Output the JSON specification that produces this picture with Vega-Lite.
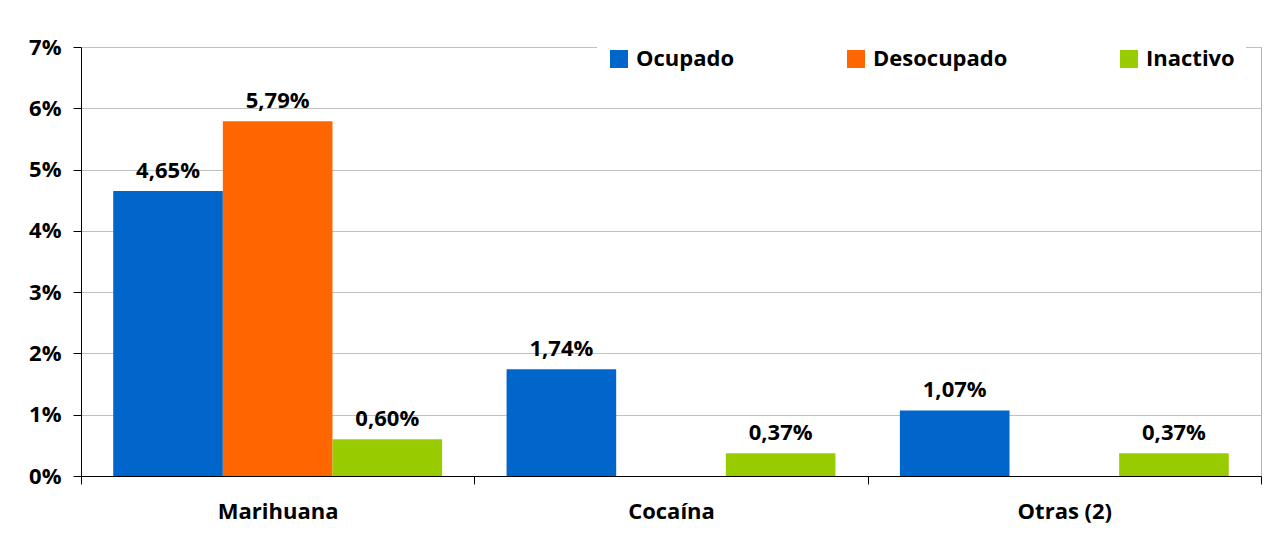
{
  "$schema": "https://vega.github.io/schema/vega-lite/v6.json",
  "width": 1180,
  "height": 429,
  "autosize": {"type": "none"},
  "padding": {"left": 81, "top": 47, "right": 5, "bottom": 62},
  "background": "white",
  "config": {
    "locale": {"number": {"decimal": ",", "thousands": ".", "grouping": [3], "currency": ["", " €"]}},
    "view": {"stroke": "#b3b3b3", "strokeWidth": 1},
    "font": "Open Sans"
  },
  "data": {
    "values": [
      {"droga": "Marihuana", "condicion": "Ocupado", "valor": 0.0465},
      {"droga": "Marihuana", "condicion": "Desocupado", "valor": 0.0579},
      {"droga": "Marihuana", "condicion": "Inactivo", "valor": 0.0060},
      {"droga": "Cocaína", "condicion": "Ocupado", "valor": 0.0174},
      {"droga": "Cocaína", "condicion": "Inactivo", "valor": 0.0037},
      {"droga": "Otras (2)", "condicion": "Ocupado", "valor": 0.0107},
      {"droga": "Otras (2)", "condicion": "Inactivo", "valor": 0.0037}
    ]
  },
  "encoding": {
    "x": {
      "field": "droga", "type": "nominal",
      "sort": ["Marihuana", "Cocaína", "Otras (2)"],
      "scale": {"domain": ["Marihuana", "Cocaína", "Otras (2)"], "paddingInner": 0, "paddingOuter": 0},
      "axis": {
        "title": null, "labelAngle": 0, "tickBand": "extent", "ticks": true,
        "tickColor": "#000000", "tickSize": 8, "domainColor": "#000000", "domainWidth": 1,
        "labelPadding": 17, "labelFontSize": 22, "labelFontWeight": "bold", "labelColor": "#000000",
        "grid": false
      }
    },
    "xOffset": {
      "field": "condicion", "type": "nominal",
      "scale": {"domain": ["Ocupado", "Desocupado", "Inactivo"], "paddingInner": 0, "paddingOuter": 0.294}
    },
    "y": {
      "field": "valor", "type": "quantitative",
      "scale": {"domain": [0, 0.07], "nice": false},
      "axis": {
        "title": null, "values": [0, 0.01, 0.02, 0.03, 0.04, 0.05, 0.06, 0.07], "format": ".0%",
        "tickColor": "#000000", "tickSize": 8, "domainColor": "#000000",
        "labelPadding": 12, "labelFontSize": 22, "labelFontWeight": "bold", "labelColor": "#000000",
        "grid": true, "gridColor": "#c0c0c0"
      }
    }
  },
  "layer": [
    {
      "mark": {"type": "bar"},
      "encoding": {
        "color": {
          "field": "condicion", "type": "nominal",
          "scale": {"domain": ["Ocupado", "Desocupado", "Inactivo"], "range": ["#0066CC", "#FF6600", "#99CC00"]},
          "legend": {
            "title": null, "orient": "none", "direction": "horizontal",
            "legendX": 516, "legendY": -10, "padding": 11,
            "fillColor": "white", "symbolType": "square", "symbolSize": 324,
            "symbolStrokeWidth": 0, "labelFontSize": 22, "labelFontWeight": "bold",
            "labelColor": "#000000", "labelOffset": 6, "columnPadding": 110, "labelLimit": 300
          }
        }
      }
    },
    {
      "mark": {"type": "text", "baseline": "bottom", "dy": -8, "fontSize": 22, "fontWeight": "bold", "color": "#000000"},
      "encoding": {"text": {"field": "valor", "type": "quantitative", "format": ".2%"}}
    }
  ]
}
